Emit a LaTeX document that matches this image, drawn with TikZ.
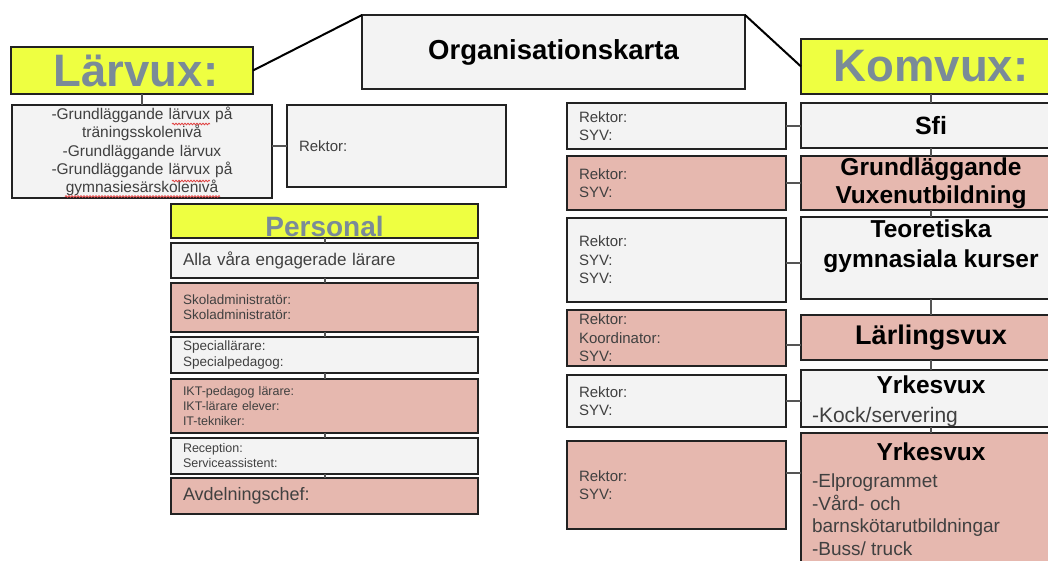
\documentclass[tikz,border=0pt]{standalone}
\usepackage{fontspec}
\setmainfont{Liberation Sans}
\usetikzlibrary{calc,decorations.pathmorphing}
\definecolor{cyellow}{HTML}{EEFF41}
\definecolor{ctitle}{HTML}{7A8B98}
\definecolor{cpink}{HTML}{E6B8AF}
\definecolor{cgray}{HTML}{F3F3F3}
\definecolor{cborder}{HTML}{222222}
\definecolor{ctext}{HTML}{404040}
\definecolor{clink}{HTML}{555555}
\definecolor{cspell}{HTML}{E04040}
\begin{document}
\begin{tikzpicture}[x=1pt,y=-1pt,
  every node/.style={inner sep=0pt,outer sep=0pt},
  bx/.style={draw=cborder,line width=1.6pt,anchor=north west},
  gy/.style={bx,fill=cgray},
  pk/.style={bx,fill=cpink},
  yl/.style={bx,fill=cyellow},
  ttlstyle/.style={font=\bfseries\fontsize{45.5}{50}\selectfont,text=ctitle},
  headstyle/.style={font=\bfseries\fontsize{25}{29}\selectfont,text=black,align=center},
  rlstyle/.style={font=\fontsize{15}{18.5}\selectfont,text=ctext,align=left,text width=195pt,inner xsep=12pt},
  persstyle/.style={align=left,text width=283pt,inner xsep=12pt,text=ctext},
  rbox/.style={minimum width=260pt},
  toplink/.style={draw=black,line width=2pt},
  hlink/.style={draw=clink,line width=2.6pt},
  vlink/.style={draw=clink,line width=2pt},
  spell/.style={draw=cspell,line width=0.8pt,decorate,decoration={snake,segment length=3pt,amplitude=0.8pt}},
]
\clip (0,0) rectangle (1048,560);
\useasboundingbox (0,0) rectangle (1048,560);

% top
\node[gy,minimum width=383pt,minimum height=74pt,font=\bfseries\fontsize{27.5}{30}\selectfont] (org) at (362,15) {Organisationskarta};
\node[yl,minimum width=242pt,minimum height=47pt,ttlstyle] (larvux) at (11,47) {\hspace*{8pt}Lärvux:};
\node[yl,rbox,minimum height=55pt,ttlstyle] (komvux) at (801,39) {Komvux:};

% Lärvux
\node[gy,minimum height=93pt,align=center,text width=260pt,font=\fontsize{15.5}{18.3}\selectfont,text=ctext] (lista) at (12,105)
  {-Grundläggande lärvux på\\träningsskolenivå\\-Grundläggande lärvux\\-Grundläggande lärvux på\\gymnasiesärskolenivå};
\node[gy,minimum height=82pt,rlstyle] (rektorL) at (287,105) {Rektor:};

% Personal
\node[yl,minimum width=307pt,minimum height=34pt,font=\bfseries\fontsize{28}{30}\selectfont,text=ctitle,text height=30pt,text depth=0pt] (personal) at (171,204) {Personal};
\node[gy,minimum height=35pt,persstyle,font=\fontsize{17}{20}\selectfont] (alla) at (171,243) {Alla våra engagerade lärare};
\node[pk,minimum height=49pt,persstyle,font=\fontsize{13.5}{15}\selectfont] (skol) at (171,283) {Skoladministratör:\\Skoladministratör:};
\node[gy,minimum height=36pt,persstyle,font=\fontsize{13.5}{15.5}\selectfont] (spec) at (171,337) {Speciallärare:\\Specialpedagog:};
\node[pk,minimum height=54pt,persstyle,font=\fontsize{12.5}{15}\selectfont] (ikt) at (171,379) {IKT-pedagog lärare:\\IKT-lärare elever:\\IT-tekniker:};
\node[gy,minimum height=36pt,persstyle,font=\fontsize{12.5}{15}\selectfont] (recep) at (171,438) {Reception:\\Serviceassistent:};
\node[pk,minimum height=36pt,persstyle,font=\fontsize{18}{20}\selectfont] (avd) at (171,478) {Avdelningschef:};

% Komvux left column
\node[gy,minimum height=46pt,rlstyle] (r1) at (567,103) {Rektor:\\SYV:};
\node[pk,minimum height=54pt,rlstyle] (r2) at (567,156) {Rektor:\\SYV:};
\node[gy,minimum height=84pt,rlstyle] (r3) at (567,218) {Rektor:\\SYV:\\SYV:};
\node[pk,minimum height=56pt,rlstyle] (r4) at (567,310) {Rektor:\\Koordinator:\\SYV:};
\node[gy,minimum height=52pt,rlstyle] (r5) at (567,375) {Rektor:\\SYV:};
\node[pk,minimum height=88pt,rlstyle] (r6) at (567,441) {Rektor:\\SYV:};

% Komvux right column
\node[gy,rbox,minimum height=45pt,headstyle] (sfi) at (801,103) {Sfi};
\node[pk,rbox,minimum height=54pt,headstyle,font=\bfseries\fontsize{24.5}{28}\selectfont] (grund) at (801,156) {Grundläggande\\Vuxenutbildning};
\node[gy,rbox,minimum height=82pt] (teor) at (801,217) {};
\node[headstyle,font=\bfseries\fontsize{24.5}{30}\selectfont,anchor=north] (teorT) at ([yshift=-3pt]teor.north) {Teoretiska\\gymnasiala kurser};
\node[pk,rbox,minimum height=45pt,headstyle,font=\bfseries\fontsize{27}{30}\selectfont] (larl) at (801,315) {Lärlingsvux};
\node[gy,rbox,minimum height=57pt] (yrk1) at (801,370) {};
\node[headstyle,font=\bfseries\fontsize{24.5}{28}\selectfont,anchor=base] (yrk1T) at ([yshift=-23pt]yrk1.north) {Yrkesvux};
\node[font=\fontsize{21}{24}\selectfont,text=ctext,anchor=base west] (yrk1L) at ([xshift=11pt,yshift=-52pt]yrk1.north west) {-Kock/servering};
\node[pk,rbox,minimum height=142pt] (yrk2) at (801,433) {};
\node[headstyle,font=\bfseries\fontsize{24.5}{28}\selectfont,anchor=base] (yrk2T) at ([yshift=-27pt]yrk2.north) {Yrkesvux};
\node[font=\fontsize{19}{22.5}\selectfont,text=ctext,anchor=north west,align=left] (yrk2L) at ([xshift=11pt,yshift=-41pt]yrk2.north west)
  {-Elprogrammet\\-Vård- och\\barnskötarutbildningar\\-Buss/ truck};

% spell-check marks
\draw[spell] (172,124) -- (210,124);
\draw[spell] (172,181) -- (210,181);
\draw[spell] (65,196.5) -- (220,196.5);

% connectors
\draw[toplink] (larvux.east) -- (org.north west);
\draw[toplink] (org.north east) -- (komvux.west);
\draw[vlink] (larvux.south -| lista.north) -- (lista.north);
\draw[hlink] (rektorL.west -| lista.east) -- (rektorL.west);

\draw[vlink] (personal.south) -- (alla.north);
\draw[vlink] (alla.south) -- (skol.north);
\draw[vlink] (skol.south) -- (spec.north);
\draw[vlink] (spec.south) -- (ikt.north);
\draw[vlink] (ikt.south) -- (recep.north);
\draw[vlink] (recep.south) -- (avd.north);

\draw[vlink] (komvux.south) -- (sfi.north);
\draw[vlink] (sfi.south) -- (grund.north);
\draw[vlink] (grund.south) -- (teor.north);
\draw[vlink] (teor.south) -- (larl.north);
\draw[vlink] (larl.south) -- (yrk1.north);
\draw[vlink] (yrk1.south) -- (yrk2.north);

\coordinate (c3) at ($(r3.east)+(0,3)$);
\coordinate (c4) at ($(r4.east)+(0,7)$);
\coordinate (c6) at ($(r6.east)+(0,-12)$);
\draw[hlink] (r1.east) -- (r1.east -| sfi.west);
\draw[hlink] (r2.east) -- (r2.east -| grund.west);
\draw[hlink] (c3) -- (c3 -| teor.west);
\draw[hlink] (c4) -- (c4 -| larl.west);
\draw[hlink] (r5.east) -- (r5.east -| yrk1.west);
\draw[hlink] (c6) -- (c6 -| yrk2.west);
\end{tikzpicture}
\end{document}
